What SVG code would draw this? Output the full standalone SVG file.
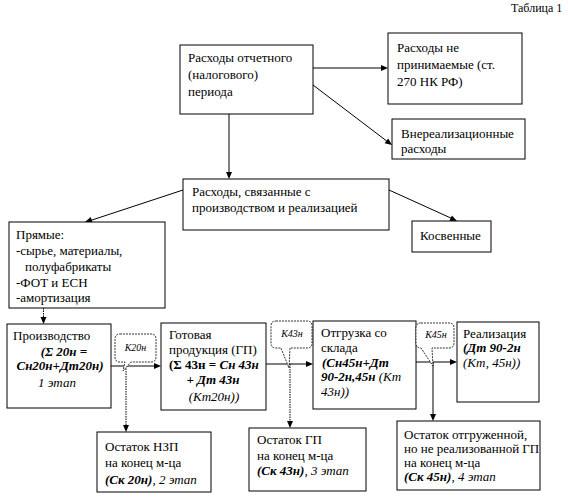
<svg xmlns="http://www.w3.org/2000/svg" width="568" height="497" viewBox="0 0 568 497">
<style>
text{font-family:"Liberation Serif","Times New Roman",serif;font-size:13px;fill:#000}
.box{fill:#fff;stroke:#000;stroke-width:1}
.ln{fill:none;stroke:#000;stroke-width:1}
.dot{fill:none;stroke:#000;stroke-width:1;stroke-dasharray:1.5,1}
.ah{fill:#000;stroke:none}
.co{fill:#fff;stroke:#000;stroke-width:0.8;stroke-dasharray:2,1}
.ct{font-size:10px;font-style:italic}
.b{font-weight:bold}
.bi{font-weight:bold;font-style:italic}
.i{font-style:italic}
.sm{font-size:12px}
</style>
<rect width="568" height="497" fill="#fff"/>
<text class="sm" x="511" y="12">Таблица 1</text>

<g id="connectors">
<line class="ln" x1="313" y1="68" x2="384" y2="68"/>
<polygon class="ah" points="381,65 388,68 381,71"/>
<line class="ln" x1="313" y1="85" x2="388" y2="142"/>
<polygon class="ah" points="384.6,143.2 392,145 388.2,138.4"/>
<line class="ln" x1="229" y1="114" x2="229" y2="175"/>
<polygon class="ah" points="226,172 229,179 232,172"/>
<line class="ln" x1="183" y1="190" x2="89" y2="221"/>
<polygon class="ah" points="90.7,217 85,222 92.6,222.7"/>
<line class="ln" x1="389" y1="190" x2="453" y2="219"/>
<polygon class="ah" points="449.4,220.8 457,221 451.9,215.4"/>
<line class="dot" x1="43.5" y1="308" x2="43.5" y2="320"/>
<polygon class="ah" points="40.5,317 43.5,324 46.5,317"/>
<line class="ln" x1="111" y1="366" x2="157" y2="366"/>
<polygon class="ah" points="154,363 161,366 154,369"/>
<line class="dot" x1="126" y1="366" x2="126" y2="428"/>
<polygon class="ah" points="123,425 126,432 129,425"/>
<line class="ln" x1="266" y1="364" x2="309" y2="364"/>
<polygon class="ah" points="306,361 313,364 306,367"/>
<line class="dot" x1="290" y1="364" x2="290" y2="424"/>
<polygon class="ah" points="287,421 290,428 293,421"/>
<line class="ln" x1="416" y1="362" x2="453" y2="362"/>
<polygon class="ah" points="450,359 457,362 450,365"/>
<line class="ln" x1="433" y1="362" x2="433" y2="417"/>
<polygon class="ah" points="430,414 433,421 436,414"/>
</g>

<g id="n-rashody-perioda">
<rect class="box" x="180" y="45" width="133" height="69"/>
<text x="188" y="62">Расходы отчетного</text>
<text x="188" y="79">(налогового)</text>
<text x="188" y="96">периода</text>
</g>
<g id="n-neprinimaemye">
<rect class="box" x="388" y="33" width="134" height="71"/>
<text x="397" y="52">Расходы не</text>
<text x="397" y="69">принимаемые (ст.</text>
<text x="397" y="86">270 НК РФ)</text>
</g>
<g id="n-vnerealiz">
<rect class="box" x="392" y="119" width="133" height="40"/>
<text x="401" y="138">Внереализационные</text>
<text x="401" y="153">расходы</text>
</g>
<g id="n-svyazannye">
<rect class="box" x="183" y="179" width="206" height="51"/>
<text x="192" y="196">Расходы, связанные с</text>
<text x="192" y="212">производством и реализацией</text>
</g>
<g id="n-kosvennye">
<rect class="box" x="412" y="221" width="79" height="31"/>
<text x="420" y="240">Косвенные</text>
</g>
<g id="n-pryamye">
<rect class="box" x="9" y="222" width="156" height="86"/>
<text x="16" y="239">Прямые:</text>
<text x="16" y="255">-сырье, материалы,</text>
<text x="25" y="271">полуфабрикаты</text>
<text x="16" y="287">-ФОТ и ЕСН</text>
<text x="16" y="302">-амортизация</text>
</g>
<g id="n-proizvodstvo">
<rect class="box" x="7" y="324" width="104" height="84"/>
<text x="13" y="340">Производство</text>
<text x="64" y="356" text-anchor="middle" class="bi">(Σ 20н =</text>
<text x="60" y="370" text-anchor="middle" class="bi">Сн20н+Дт20н)</text>
<text x="57" y="387" text-anchor="middle" class="i">1 этап</text>
</g>
<g id="c-k20">
<path class="co" d="M120,334 H151 Q156,334 156,339 V357 Q156,362 151,362 H131 L123,371 L125,362 H120 Q115,362 115,357 V339 Q115,334 120,334 Z"/>
<text class="ct" x="135.5" y="351" text-anchor="middle">К20н</text>
</g>
<g id="n-gotovaya">
<rect class="box" x="161" y="323" width="105" height="87"/>
<text x="169" y="339">Готовая</text>
<text x="169" y="354">продукция (ГП)</text>
<text x="169" y="369" class="b">(Σ 43н = <tspan class="bi">Сн 43н</tspan></text>
<text x="213" y="384" text-anchor="middle" class="bi">+ Дт 43н</text>
<text x="214" y="401" text-anchor="middle" class="i">(Кт20н))</text>
</g>
<g id="n-ostatok-nzp">
<rect class="box" x="97" y="432" width="114" height="60"/>
<text x="105" y="451">Остаток НЗП</text>
<text x="105" y="467">на конец м-ца</text>
<text x="105" y="484" class="i"><tspan class="bi">(Ск 20н)</tspan>, 2 этап</text>
</g>
<g id="c-k43">
<path class="co" d="M276,321 H307 Q312,321 312,326 V343 Q312,348 307,348 H290 L289,368 L281,348 H276 Q271,348 271,343 V326 Q271,321 276,321 Z"/>
<text class="ct" x="292" y="337" text-anchor="middle">К43н</text>
</g>
<g id="n-otgruzka">
<rect class="box" x="313" y="321" width="103" height="88"/>
<text x="321" y="337">Отгрузка со</text>
<text x="321" y="352">склада</text>
<text x="322" y="367" class="bi">(Сн45н+Дт</text>
<text x="321" y="381" class="i"><tspan class="bi">90-2н,45н</tspan> (Кт</text>
<text x="321" y="396" class="i">43н))</text>
</g>
<g id="n-ostatok-gp">
<rect class="box" x="249" y="428" width="117" height="63"/>
<text x="257" y="444">Остаток ГП</text>
<text x="257" y="460">на конец м-ца</text>
<text x="257" y="475" class="i"><tspan class="bi">(Ск 43н)</tspan>, 3 этап</text>
</g>
<g id="c-k45">
<path class="co" d="M421,323 H449 Q454,323 454,328 V343 Q454,348 449,348 H432 L433,366 L421,348 Q416,348 416,343 V328 Q416,323 421,323 Z"/>
<text class="ct" x="436" y="338" text-anchor="middle">К45н</text>
</g>
<g id="n-realizaciya">
<rect class="box" x="457" y="322" width="82" height="80"/>
<text x="463" y="338">Реализация</text>
<text x="463" y="352" class="bi">(Дт 90-2н</text>
<text x="463" y="367" class="i">(Кт, 45н))</text>
</g>
<g id="n-ostatok-otgr">
<rect class="box" x="397" y="421" width="143" height="69"/>
<text x="404" y="439">Остаток отгруженной,</text>
<text x="404" y="453">но не реализованной ГП</text>
<text x="404" y="467">на конец м-ца</text>
<text x="404" y="481" class="i"><tspan class="bi">(Ск 45н)</tspan>, 4 этап</text>
</g>
</svg>
